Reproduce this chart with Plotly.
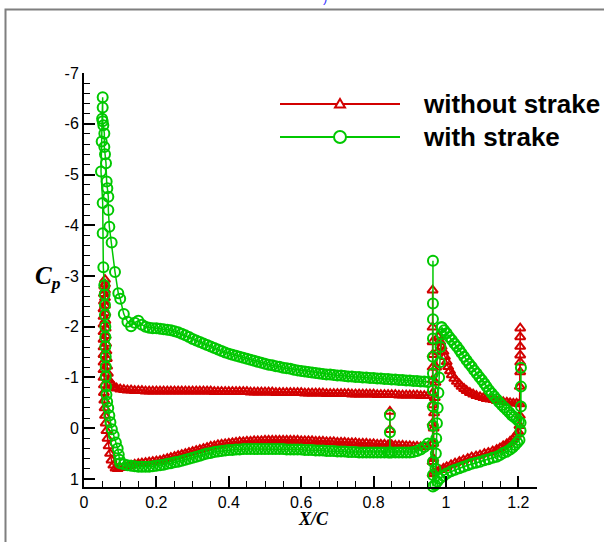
import plotly.graph_objects as go

RED = '#d20000'
GREEN = '#00c800'

# ---------------- data ----------------
# shared chordwise stations for the main-element upper / lower surfaces
xm = [0.10, 0.11, 0.12, 0.13, 0.14, 0.15, 0.16, 0.17, 0.18, 0.19,
      0.20, 0.21, 0.22, 0.23, 0.24, 0.25, 0.26, 0.27, 0.28, 0.29,
      0.30, 0.31, 0.32, 0.33, 0.34, 0.35, 0.36, 0.37, 0.38, 0.39,
      0.40, 0.41, 0.42, 0.43, 0.44, 0.45, 0.46, 0.47, 0.48, 0.49,
      0.50, 0.51, 0.52, 0.53, 0.54, 0.55, 0.56, 0.57, 0.58, 0.59,
      0.60, 0.61, 0.62, 0.63, 0.64, 0.65, 0.66, 0.67, 0.68, 0.69,
      0.70, 0.71, 0.72, 0.73, 0.74, 0.75, 0.76, 0.77, 0.78, 0.79,
      0.80, 0.81, 0.82, 0.83, 0.84, 0.85, 0.86, 0.87, 0.88, 0.89,
      0.90, 0.91, 0.92, 0.93, 0.94, 0.95]

# ---- without strake ----
red_up = [-0.77, -0.76, -0.75, -0.75, -0.74, -0.74, -0.74, -0.73, -0.73, -0.73,
          -0.73, -0.73, -0.73, -0.73, -0.73, -0.73, -0.73, -0.73, -0.73, -0.73,
          -0.73, -0.73, -0.73, -0.73, -0.73, -0.73, -0.72, -0.72, -0.72, -0.72,
          -0.72, -0.72, -0.72, -0.72, -0.72, -0.72, -0.71, -0.71, -0.71, -0.71,
          -0.71, -0.71, -0.71, -0.70, -0.70, -0.70, -0.70, -0.70, -0.70, -0.70,
          -0.70, -0.69, -0.69, -0.69, -0.69, -0.69, -0.69, -0.68, -0.68, -0.68,
          -0.68, -0.68, -0.68, -0.68, -0.67, -0.67, -0.67, -0.67, -0.67, -0.67,
          -0.67, -0.66, -0.66, -0.66, -0.66, -0.66, -0.66, -0.65, -0.65, -0.65,
          -0.65, -0.65, -0.65, -0.64, -0.64, -0.64]
red_lo = [0.78, 0.77, 0.75, 0.73, 0.71, 0.70, 0.69, 0.68, 0.67, 0.66,
          0.65, 0.64, 0.62, 0.60, 0.58, 0.56, 0.54, 0.52, 0.50, 0.48,
          0.46, 0.44, 0.42, 0.40, 0.38, 0.36, 0.35, 0.33, 0.32, 0.31,
          0.30, 0.29, 0.28, 0.27, 0.27, 0.26, 0.26, 0.25, 0.25, 0.25,
          0.24, 0.24, 0.24, 0.24, 0.24, 0.24, 0.24, 0.24, 0.24, 0.24,
          0.25, 0.25, 0.25, 0.25, 0.26, 0.26, 0.26, 0.27, 0.27, 0.27,
          0.28, 0.28, 0.28, 0.29, 0.29, 0.29, 0.30, 0.30, 0.30, 0.31,
          0.31, 0.32, 0.32, 0.32, 0.33, 0.33, 0.34, 0.34, 0.34, 0.35,
          0.35, 0.36, 0.36, 0.37, 0.37, 0.36]
red_le_x = [0.090, 0.084, 0.078, 0.073, 0.069, 0.066, 0.064, 0.063, 0.062, 0.061,
            0.060, 0.060, 0.059, 0.059, 0.058, 0.058, 0.058, 0.058, 0.058,
            0.056, 0.055, 0.055, 0.054, 0.054, 0.054, 0.054, 0.054, 0.054, 0.054,
            0.054, 0.054, 0.054, 0.055, 0.055, 0.056, 0.057, 0.058, 0.060, 0.062,
            0.065, 0.068, 0.072, 0.076, 0.081, 0.087, 0.093]
red_le_cp = [-0.79, -0.81, -0.84, -0.88, -0.95, -1.08, -1.22, -1.37, -1.52, -1.67,
             -1.82, -1.97, -2.12, -2.27, -2.42, -2.57, -2.72, -2.84, -2.93,
             -2.80, -2.65, -2.50, -2.35, -2.20, -2.05, -1.90, -1.75, -1.60, -1.45,
             -1.30, -1.15, -1.00, -0.85, -0.70, -0.55, -0.40, -0.25, -0.10, 0.05,
             0.20, 0.35, 0.50, 0.63, 0.73, 0.79, 0.80]
red_spike_x = [0.963, 0.963, 0.963, 0.963, 0.963, 0.963, 0.963, 0.963, 0.963, 0.963, 0.963, 0.963]
red_spike_cp = [-2.72, -1.99, -1.70, -1.45, -1.20, -0.95, -0.69, -0.46, -0.10, 0.30, 0.66, 0.90]
red_fu_x = [0.979, 0.984, 0.988, 0.993, 0.997, 1.002, 1.006, 1.011, 1.016, 1.023,
            1.030, 1.037, 1.043, 1.050, 1.057, 1.066, 1.075, 1.084, 1.094, 1.103,
            1.112, 1.122, 1.131, 1.140, 1.149, 1.158, 1.168, 1.177, 1.186, 1.195, 1.203]
red_fu_cp = [-1.80, -1.70, -1.61, -1.51, -1.41, -1.31, -1.21, -1.13, -1.05, -0.98,
             -0.92, -0.87, -0.82, -0.78, -0.74, -0.70, -0.67, -0.64, -0.62, -0.60,
             -0.58, -0.57, -0.56, -0.54, -0.53, -0.52, -0.51, -0.50, -0.49, -0.49, -0.48]
red_fte_x = [1.204, 1.205, 1.205, 1.205, 1.205, 1.205, 1.205, 1.204, 1.203]
red_fte_cp = [-0.82, -1.11, -1.30, -1.44, -1.61, -1.80, -1.97, -0.25, -0.05]
red_fl_x = [0.965, 0.974, 0.983, 0.993, 1.002, 1.014, 1.025, 1.037, 1.048, 1.060,
            1.071, 1.083, 1.094, 1.106, 1.117, 1.129, 1.140, 1.149, 1.158, 1.168,
            1.177, 1.184, 1.191, 1.196, 1.200]
red_fl_cp = [0.88, 0.85, 0.82, 0.79, 0.76, 0.72, 0.69, 0.66, 0.63, 0.60,
             0.57, 0.55, 0.53, 0.50, 0.48, 0.45, 0.42, 0.39, 0.35, 0.31,
             0.26, 0.22, 0.17, 0.12, 0.07]
red_nose_x = [0.965, 0.965, 0.966, 0.967, 0.969, 0.971, 0.973, 0.976]
red_nose_cp = [0.60, 0.30, 0.00, -0.30, -0.60, -0.90, -1.20, -1.50]
red_stalk_x = [0.845, 0.845, 0.845]
red_stalk_cp = [0.34, 0.03, -0.33]

# ---- with strake ----
grn_up = [-2.55, -2.25, -2.10, -2.01, -2.08, -2.12, -2.04, -2.00, -1.98, -1.97,
          -1.97, -1.96, -1.95, -1.94, -1.93, -1.91, -1.89, -1.86, -1.83, -1.80,
          -1.76, -1.73, -1.70, -1.67, -1.64, -1.61, -1.58, -1.55, -1.52, -1.49,
          -1.47, -1.45, -1.43, -1.41, -1.39, -1.37, -1.35, -1.33, -1.31, -1.29,
          -1.27, -1.25, -1.24, -1.22, -1.21, -1.19, -1.18, -1.17, -1.15, -1.14,
          -1.13, -1.12, -1.11, -1.10, -1.09, -1.08, -1.07, -1.06, -1.06, -1.05,
          -1.04, -1.04, -1.03, -1.02, -1.02, -1.01, -1.01, -1.00, -1.00, -0.99,
          -0.99, -0.98, -0.98, -0.97, -0.97, -0.96, -0.96, -0.95, -0.95, -0.94,
          -0.94, -0.93, -0.93, -0.92, -0.92, -0.91]
grn_lo = [0.69, 0.71, 0.73, 0.74, 0.75, 0.76, 0.76, 0.76, 0.76, 0.75,
          0.74, 0.73, 0.72, 0.70, 0.69, 0.67, 0.66, 0.64, 0.62, 0.60,
          0.58, 0.56, 0.54, 0.52, 0.50, 0.49, 0.47, 0.46, 0.45, 0.44,
          0.43, 0.43, 0.42, 0.42, 0.41, 0.41, 0.41, 0.41, 0.41, 0.41,
          0.41, 0.41, 0.41, 0.41, 0.41, 0.41, 0.42, 0.42, 0.42, 0.42,
          0.42, 0.43, 0.43, 0.43, 0.44, 0.44, 0.44, 0.45, 0.45, 0.45,
          0.46, 0.46, 0.46, 0.47, 0.47, 0.47, 0.48, 0.48, 0.48, 0.48,
          0.48, 0.48, 0.48, 0.48, 0.48, 0.48, 0.48, 0.48, 0.48, 0.48,
          0.48, 0.47, 0.45, 0.42, 0.37, 0.30]
grn_le_x = [0.0948, 0.0856, 0.0764, 0.0700, 0.0672, 0.0672, 0.0645, 0.0626, 0.0608, 0.0580,
            0.0562, 0.0562, 0.0534, 0.0516, 0.0516, 0.0516,
            0.0500, 0.0488, 0.0470, 0.0516, 0.0516, 0.0534, 0.0560, 0.0570, 0.0580, 0.0580,
            0.0590, 0.0590, 0.0590, 0.0600, 0.0600, 0.0600, 0.0610, 0.0620, 0.0640, 0.0670,
            0.0700, 0.0730, 0.0770, 0.0820, 0.0880, 0.0930, 0.0960, 0.0980]
grn_le_cp = [-2.66, -3.08, -3.66, -3.97, -4.30, -4.56, -4.73, -4.86, -5.22, -5.40,
             -5.54, -5.81, -5.97, -6.05, -6.32, -6.52,
             -6.10, -5.65, -5.06, -4.44, -3.84, -3.17, -2.82, -2.63, -2.43, -2.23,
             -2.00, -1.80, -1.61, -1.41, -1.21, -1.02, -0.82, -0.66, -0.52, -0.40,
             -0.25, -0.12, 0.02, 0.14, 0.28, 0.40, 0.52, 0.62]
grn_spike_x = [0.964, 0.964, 0.964, 0.964, 0.964, 0.964, 0.964, 0.964, 0.964, 0.964, 0.964, 0.964, 0.964]
grn_spike_cp = [-3.30, -2.46, -2.15, -1.77, -1.41, -1.08, -0.75, -0.43, -0.05, 0.30, 0.66, 0.92, 1.15]
grn_fu_x = [0.988, 0.995, 1.002, 1.009, 1.016, 1.023, 1.030, 1.037, 1.043, 1.050,
            1.057, 1.064, 1.071, 1.078, 1.085, 1.092, 1.099, 1.106, 1.112, 1.119,
            1.126, 1.133, 1.140, 1.147, 1.154, 1.161, 1.168, 1.175, 1.181, 1.188,
            1.195, 1.201, 1.206]
grn_fu_cp = [-1.99, -1.93, -1.87, -1.80, -1.74, -1.67, -1.61, -1.54, -1.48, -1.41,
             -1.34, -1.27, -1.21, -1.14, -1.08, -1.01, -0.95, -0.88, -0.82, -0.75,
             -0.69, -0.63, -0.57, -0.51, -0.46, -0.41, -0.36, -0.31, -0.26, -0.22,
             -0.18, -0.14, -0.11]
grn_fte_x = [1.207, 1.207, 1.207, 1.206]
grn_fte_cp = [-0.43, -0.82, -1.19, 0.05]
grn_fl_x = [0.970, 0.976, 0.983, 0.993, 1.002, 1.014, 1.025, 1.037, 1.048, 1.060,
            1.071, 1.083, 1.094, 1.106, 1.117, 1.129, 1.140, 1.149, 1.158, 1.168,
            1.177, 1.184, 1.191, 1.197, 1.203]
grn_fl_cp = [1.12, 1.05, 0.99, 0.94, 0.89, 0.85, 0.82, 0.79, 0.76, 0.73,
             0.70, 0.68, 0.66, 0.63, 0.61, 0.58, 0.56, 0.53, 0.49, 0.46,
             0.42, 0.38, 0.33, 0.28, 0.23]
grn_nose_x = [0.971, 0.972, 0.973, 0.975, 0.977, 0.979, 0.981, 0.983, 0.985, 0.987]
grn_nose_cp = [0.80, 0.50, 0.20, -0.10, -0.40, -0.70, -1.00, -1.30, -1.60, -1.85]
grn_stalk_x = [0.845, 0.845, 0.845]
grn_stalk_cp = [0.48, 0.08, -0.26]

x_tickvals = [0, 0.2, 0.4, 0.6, 0.8, 1.0, 1.2]
x_ticktext = ['0', '0.2', '0.4', '0.6', '0.8', '1', '1.2']
y_tickvals = [-7, -6, -5, -4, -3, -2, -1, 0, 1]
y_ticktext = ['-7', '-6', '-5', '-4', '-3', '-2', '-1', '0', '1']


def join(*segs):
    xs, ys = [], []
    for sx, sy in segs:
        if xs:
            xs.append(None)
            ys.append(None)
        xs += list(sx)
        ys += list(sy)
    return xs, ys


def series(up, lo, le_x, le_cp, spk_x, spk_cp, fu_x, fu_cp, fte_x, fte_cp,
           fl_x, fl_cp, nose_x, nose_cp, st_x, st_cp):
    main_x = xm[::-1] + le_x + xm
    main_y = up[::-1] + le_cp + lo
    flap_x = fu_x + fte_x + fl_x[::-1] + nose_x + fu_x[:1]
    flap_y = fu_cp + fte_cp + fl_cp[::-1] + nose_cp + fu_cp[:1]
    return join((main_x, main_y), (spk_x, spk_cp), (flap_x, flap_y), (st_x, st_cp))


rx, ry = series(red_up, red_lo, red_le_x, red_le_cp, red_spike_x, red_spike_cp,
                red_fu_x, red_fu_cp, red_fte_x, red_fte_cp, red_fl_x, red_fl_cp,
                red_nose_x, red_nose_cp, red_stalk_x, red_stalk_cp)
gx, gy = series(grn_up, grn_lo, grn_le_x, grn_le_cp, grn_spike_x, grn_spike_cp,
                grn_fu_x, grn_fu_cp, grn_fte_x, grn_fte_cp, grn_fl_x, grn_fl_cp,
                grn_nose_x, grn_nose_cp, grn_stalk_x, grn_stalk_cp)

fig = go.Figure()
fig.add_trace(go.Scatter(
    x=rx, y=ry, mode='lines+markers', name='without strake',
    line=dict(color=RED, width=1.5),
    marker=dict(symbol='triangle-up-open', size=9, color=RED, line=dict(color=RED, width=2)),
    connectgaps=False, cliponaxis=False, showlegend=False))
fig.add_trace(go.Scatter(
    x=gx, y=gy, mode='lines+markers', name='with strake',
    line=dict(color=GREEN, width=1.5),
    marker=dict(symbol='circle-open', size=10, color=GREEN, line=dict(color=GREEN, width=2)),
    connectgaps=False, cliponaxis=False, showlegend=False))

W, H = 604, 542
ML, MR, MT, MB = 84, 67, 73, 55
PW, PH = W - ML - MR, H - MT - MB


def px(xp):
    return (xp - ML) / PW


def py(yp):
    return (H - MB - yp) / PH


tickfont = dict(family='Liberation Sans, Arial, sans-serif', size=16, color='black')
fig.update_xaxes(range=[0, 1.2514], showline=True, linecolor='black', linewidth=2,
                 ticks='inside', ticklen=11, tickwidth=2, tickcolor='black',
                 tickvals=x_tickvals, ticktext=x_ticktext, tickfont=tickfont,
                 showgrid=False, zeroline=False,
                 minor=dict(ticks='inside', ticklen=6, tickwidth=1, tickcolor='black',
                            tickmode='linear', tick0=0, dtick=0.05, showgrid=False))
fig.update_yaxes(range=[1.158, -7], showline=True, linecolor='black', linewidth=2,
                 ticks='inside', ticklen=11, tickwidth=2, tickcolor='black',
                 tickvals=y_tickvals, ticktext=y_ticktext, tickfont=tickfont,
                 showgrid=False, zeroline=False,
                 minor=dict(ticks='inside', ticklen=6, tickwidth=1, tickcolor='black',
                            tickmode='linear', tick0=-7, dtick=0.2, showgrid=False))

shapes = [
    # outer frame
    dict(type='rect', xref='paper', yref='paper', x0=px(5.5), x1=px(900), y0=py(900), y1=py(9.5),
         line=dict(color='#7f7f7f', width=2), layer='below'),
    # legend lines
    dict(type='line', xref='paper', yref='paper', x0=px(280), x1=px(400), y0=py(104), y1=py(104),
         line=dict(color=RED, width=2)),
    dict(type='line', xref='paper', yref='paper', x0=px(280), x1=px(400), y0=py(137), y1=py(137),
         line=dict(color=GREEN, width=2)),
    # legend symbols
    dict(type='path', xref='paper', yref='paper', xsizemode='pixel', ysizemode='pixel',
         xanchor=px(340), yanchor=py(104), path='M -5,-3.5 L 5,-3.5 L 0,5 Z',
         line=dict(color=RED, width=2), fillcolor='white'),
    dict(type='circle', xref='paper', yref='paper', xsizemode='pixel', ysizemode='pixel',
         xanchor=px(340), yanchor=py(137), x0=-6, x1=6, y0=-6, y1=6,
         line=dict(color=GREEN, width=2), fillcolor='white'),
]

annotations = [
    dict(text='<b>without strake</b>', xref='paper', yref='paper', x=px(421), y=py(104),
         xanchor='left', yanchor='middle', showarrow=False,
         font=dict(family='Liberation Sans, Arial, sans-serif', size=26, color='black')),
    dict(text='<b>with strake</b>', xref='paper', yref='paper', x=px(421), y=py(137),
         xanchor='left', yanchor='middle', showarrow=False,
         font=dict(family='Liberation Sans, Arial, sans-serif', size=26, color='black')),
    dict(text='<b><i>C</i></b><sub><b><i>p</i></b></sub>', xref='paper', yref='paper',
         x=px(48), y=py(277), xanchor='center', yanchor='middle', showarrow=False,
         font=dict(family='Liberation Serif, Times New Roman, serif', size=25, color='black')),
    dict(text='<b><i>X/C</i></b>', xref='paper', yref='paper',
         x=px(313), y=py(519), xanchor='center', yanchor='middle', showarrow=False,
         font=dict(family='Liberation Serif, Times New Roman, serif', size=18, color='black')),
    dict(text=')', xref='paper', yref='paper', x=px(325), y=py(-3),
         xanchor='center', yanchor='middle', showarrow=False,
         font=dict(family='Liberation Sans, Arial, sans-serif', size=13, color='#3030ff')),
]

fig.update_layout(width=W, height=H, margin=dict(l=ML, r=MR, t=MT, b=MB, pad=0),
                  paper_bgcolor='white', plot_bgcolor='white',
                  shapes=shapes, annotations=annotations, showlegend=False)

fig.write_html('out.html')
